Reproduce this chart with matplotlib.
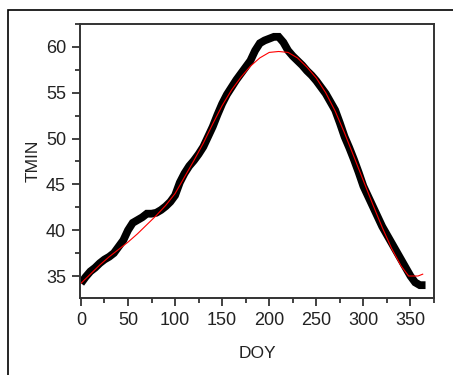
import matplotlib
matplotlib.use("Agg")
import matplotlib.pyplot as plt
from matplotlib.patches import Rectangle
from matplotlib.ticker import MultipleLocator

plt.rcParams['font.family'] = ['Liberation Sans', 'DejaVu Sans']

# Observed daily mean minimum temperature (black)
doy_obs = [0, 5, 10, 15, 20, 25, 30, 35, 40, 45, 50, 55, 60, 65, 70, 75, 80, 85,
           90, 95, 100, 105, 110, 115, 120, 125, 130, 135, 140, 145, 150, 155,
           160, 165, 170, 175, 180, 185, 190, 195, 200, 205, 210, 215, 220, 225,
           230, 235, 240, 245, 250, 255, 260, 265, 270, 275, 280, 285, 290, 295,
           300, 305, 310, 315, 320, 325, 330, 335, 340, 345, 350, 355, 360, 366]
tmin_obs = [34.2, 34.9, 35.5, 35.9, 36.4, 36.8, 37.1, 37.5, 38.2, 38.9, 40.0, 40.8,
            41.1, 41.4, 41.8, 41.8, 41.9, 42.2, 42.6, 43.1, 43.8, 45.2, 46.2, 47.0,
            47.6, 48.3, 49.1, 50.2, 51.3, 52.6, 53.8, 54.8, 55.6, 56.4, 57.1, 57.8,
            58.5, 59.6, 60.4, 60.7, 60.9, 61.1, 61.1, 60.5, 59.6, 59.0, 58.5, 58.0,
            57.4, 56.9, 56.3, 55.6, 54.9, 54.0, 53.1, 51.7, 50.2, 49.0, 47.7, 46.3,
            44.8, 43.7, 42.6, 41.5, 40.4, 39.5, 38.6, 37.7, 36.8, 35.9, 35.0, 34.3,
            34.0, 34.0]

# Smoothed fit (red)
doy_fit = [0, 10, 20, 30, 40, 50, 60, 70, 80, 90, 100, 110, 120, 130, 140, 150,
           160, 170, 180, 190, 200, 210, 220, 230, 240, 250, 260, 270, 280, 290,
           300, 310, 320, 330, 340, 348, 358, 363]
tmin_fit = [34.2, 35.2, 36.2, 37.1, 37.9, 38.7, 39.6, 40.6, 41.6, 42.7, 44.0, 45.8,
            47.6, 49.5, 51.6, 53.6, 55.3, 56.7, 57.9, 58.8, 59.4, 59.5, 59.4, 58.8,
            57.8, 56.6, 55.0, 53.0, 50.6, 48.0, 45.4, 42.8, 40.3, 38.0, 36.1, 35.0,
            35.0, 35.2]

fig = plt.figure(figsize=(4.53, 3.75), dpi=100)
fig.patches.append(Rectangle((8/453, -0.1), 2, 1.1 - 10/375, transform=fig.transFigure,
                             fill=False, edgecolor='black', linewidth=1.2))
ax = fig.add_axes([80/453, 1-298/375, (434-80)/453, (298-24)/375])

ax.plot(doy_obs, tmin_obs, color='black', linewidth=5.6, solid_capstyle='butt',
        solid_joinstyle='miter')
ax.plot(doy_fit, tmin_fit, color='red', linewidth=0.8)

ax.set_xlim(-1, 375)
ax.set_ylim(32.6, 62.5)
ax.xaxis.set_major_locator(MultipleLocator(50))
ax.xaxis.set_minor_locator(MultipleLocator(25))
ax.yaxis.set_major_locator(MultipleLocator(5))
ax.yaxis.set_minor_locator(MultipleLocator(2.5))
ax.tick_params(which='major', direction='out', length=6, width=1.3, labelsize=13,
               color='#333333', labelcolor='#222222', pad=4)
ax.tick_params(which='minor', direction='out', length=3.5, width=1.3, color='#333333')
for s in ax.spines.values():
    s.set_linewidth(1.4)
    s.set_color('#333333')
ax.set_xlabel('DOY', fontsize=12.5, color='#222222', labelpad=12)
ax.set_ylabel('TMIN', fontsize=12.5, color='#222222', labelpad=4)

fig.savefig('out.png', dpi=100)
